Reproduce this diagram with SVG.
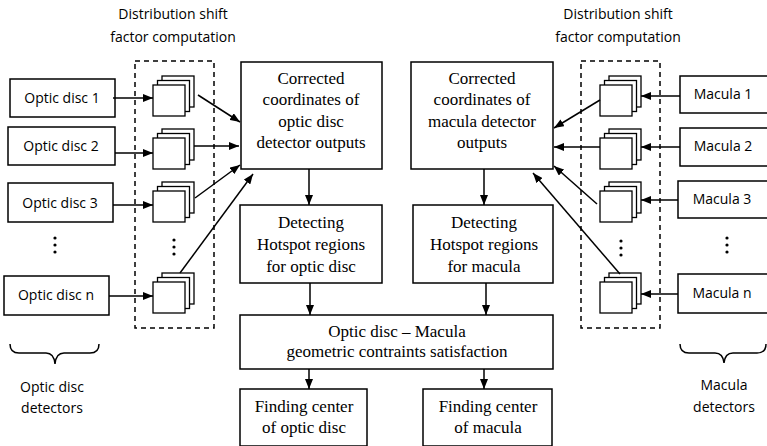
<svg xmlns="http://www.w3.org/2000/svg" width="767" height="446" viewBox="0 0 767 446">
<style>
.box{fill:#fff;stroke:#000;stroke-width:1.5}
.sq{fill:#fff;stroke:#000;stroke-width:1.3}
.dash{fill:none;stroke:#000;stroke-width:1.5;stroke-dasharray:5,4}
.ln{fill:none;stroke:#000;stroke-width:1.5;marker-end:url(#ah)}
.br{fill:none;stroke:#000;stroke-width:1.5}
.sans{font-family:"Open Sans","Noto Sans",sans-serif;font-size:14px;fill:#000;text-anchor:middle}
.serif{font-family:"Liberation Serif","Times New Roman",serif;font-size:17px;fill:#000;text-anchor:middle}
</style>
<defs>
<marker id="ah" markerUnits="userSpaceOnUse" markerWidth="10" markerHeight="8" refX="10" refY="4" orient="auto">
<path d="M0,0 L10,4 L0,8 z" fill="#000"/>
</marker>
<g id="stack">
<rect class="sq" x="9" y="-9" width="32" height="31"/>
<rect class="sq" x="4.5" y="-4.5" width="32" height="31"/>
<rect class="sq" x="0" y="0" width="32" height="31"/>
</g>
<g id="dots"><circle cx="0" cy="0" r="1.6"/><circle cx="0" cy="7" r="1.6"/><circle cx="0" cy="14" r="1.6"/></g>
</defs>
<rect width="767" height="446" fill="#fff"/>

<g id="titles">
<text class="sans" x="173" y="19">Distribution shift</text>
<text class="sans" x="173" y="42">factor computation</text>
<text class="sans" x="618" y="19">Distribution shift</text>
<text class="sans" x="618" y="42">factor computation</text>
</g>

<g id="dashed-left"><rect class="dash" x="135" y="61" width="79" height="267"/></g>
<g id="dashed-right"><rect class="dash" x="581" y="61" width="79" height="267"/></g>

<g id="od1"><rect class="box" x="10" y="79" width="105" height="38"/><text class="sans" x="62" y="103">Optic disc 1</text></g>
<g id="od2"><rect class="box" x="8" y="127" width="107" height="38"/><text class="sans" x="61" y="151">Optic disc 2</text></g>
<g id="od3"><rect class="box" x="8" y="183" width="105" height="39"/><text class="sans" x="60" y="208">Optic disc 3</text></g>
<g id="odn"><rect class="box" x="4" y="276" width="105" height="39"/><text class="sans" x="56" y="300">Optic disc n</text></g>
<g id="od-dots"><use href="#dots" x="55" y="238"/></g>

<g id="ls1"><use href="#stack" x="153" y="85"/></g>
<g id="ls2"><use href="#stack" x="153" y="138"/></g>
<g id="ls3"><use href="#stack" x="153" y="191"/></g>
<g id="lsn"><use href="#stack" x="153" y="282"/></g>
<g id="ls-dots"><use href="#dots" x="174" y="240"/></g>

<g id="m1"><rect class="box" x="680" y="76" width="88" height="37"/><text class="sans" x="723" y="99">Macula 1</text></g>
<g id="m2"><rect class="box" x="680" y="128" width="88" height="38"/><text class="sans" x="723" y="151">Macula 2</text></g>
<g id="m3"><rect class="box" x="678" y="181" width="90" height="37"/><text class="sans" x="722" y="204">Macula 3</text></g>
<g id="mn"><rect class="box" x="678" y="274" width="90" height="39"/><text class="sans" x="722" y="298">Macula n</text></g>
<g id="m-dots"><use href="#dots" x="727" y="238"/></g>

<g id="rs1"><use href="#stack" x="600" y="85"/></g>
<g id="rs2"><use href="#stack" x="600" y="138"/></g>
<g id="rs3"><use href="#stack" x="600" y="191"/></g>
<g id="rsn"><use href="#stack" x="600" y="282"/></g>
<g id="rs-dots"><use href="#dots" x="621" y="241"/></g>

<g id="corr-od"><rect class="box" x="241" y="62" width="141" height="107"/>
<text class="serif" x="311" y="84">Corrected</text>
<text class="serif" x="311" y="105">coordinates of</text>
<text class="serif" x="311" y="127">optic disc</text>
<text class="serif" x="311" y="148">detector outputs</text></g>

<g id="corr-m"><rect class="box" x="411" y="62" width="142" height="107"/>
<text class="serif" x="482" y="84">Corrected</text>
<text class="serif" x="482" y="105">coordinates of</text>
<text class="serif" x="482" y="127">macula detector</text>
<text class="serif" x="482" y="148">outputs</text></g>

<g id="hot-od"><rect class="box" x="240" y="205" width="142" height="78"/>
<text class="serif" x="311" y="228">Detecting</text>
<text class="serif" x="311" y="250">Hotspot regions</text>
<text class="serif" x="311" y="272">for optic disc</text></g>

<g id="hot-m"><rect class="box" x="413" y="205" width="140" height="78"/>
<text class="serif" x="484" y="228">Detecting</text>
<text class="serif" x="484" y="250">Hotspot regions</text>
<text class="serif" x="484" y="272">for macula</text></g>

<g id="geo"><rect class="box" x="240" y="315" width="313" height="54"/>
<text class="serif" x="397" y="337">Optic disc – Macula</text>
<text class="serif" x="397" y="357">geometric contraints satisfaction</text></g>

<g id="find-od"><rect class="box" x="240" y="389" width="127" height="57"/>
<text class="serif" x="304" y="412">Finding center</text>
<text class="serif" x="304" y="433">of optic disc</text></g>

<g id="find-m"><rect class="box" x="423" y="389" width="129" height="57"/>
<text class="serif" x="488" y="412">Finding center</text>
<text class="serif" x="488" y="433">of macula</text></g>

<g id="braces">
<path class="br" d="M10,344 Q10,353 19,353 L46,353 Q54,353 55,364 Q56,353 64,353 L90,353 Q99,353 99,344"/>
<path class="br" d="M680,344 Q680,353 689,353 L715,353 Q723,353 724,363 Q725,353 733,353 L757,353 Q766,353 766,344"/>
<text class="sans" x="52" y="392">Optic disc</text>
<text class="sans" x="52" y="413">detectors</text>
<text class="sans" x="724" y="390">Macula</text>
<text class="sans" x="724" y="412">detectors</text>
</g>

<g id="connectors">
<line class="ln" x1="113" y1="98" x2="153" y2="98"/>
<line class="ln" x1="115" y1="153" x2="153" y2="153"/>
<line class="ln" x1="113" y1="205" x2="153" y2="205"/>
<line class="ln" x1="109" y1="296" x2="153" y2="296"/>
<line class="ln" x1="198" y1="95" x2="240" y2="122"/>
<line class="ln" x1="194" y1="146" x2="239" y2="146"/>
<line class="ln" x1="195" y1="198" x2="240" y2="165"/>
<line class="ln" x1="180" y1="273" x2="253" y2="174"/>
<line class="ln" x1="680" y1="96" x2="641" y2="96"/>
<line class="ln" x1="680" y1="147" x2="641" y2="147"/>
<line class="ln" x1="678" y1="200" x2="641" y2="200"/>
<line class="ln" x1="678" y1="294" x2="641" y2="294"/>
<line class="ln" x1="600" y1="100" x2="554" y2="128"/>
<line class="ln" x1="600" y1="147" x2="554" y2="147"/>
<line class="ln" x1="597" y1="204" x2="554" y2="166"/>
<line class="ln" x1="620" y1="274" x2="533" y2="173"/>
<line class="ln" x1="309" y1="169" x2="309" y2="205"/>
<line class="ln" x1="484" y1="169" x2="484" y2="205"/>
<line class="ln" x1="310" y1="283" x2="310" y2="315"/>
<line class="ln" x1="486" y1="283" x2="486" y2="315"/>
<line class="ln" x1="309" y1="369" x2="309" y2="389"/>
<line class="ln" x1="484" y1="369" x2="484" y2="389"/>
</g>
</svg>
